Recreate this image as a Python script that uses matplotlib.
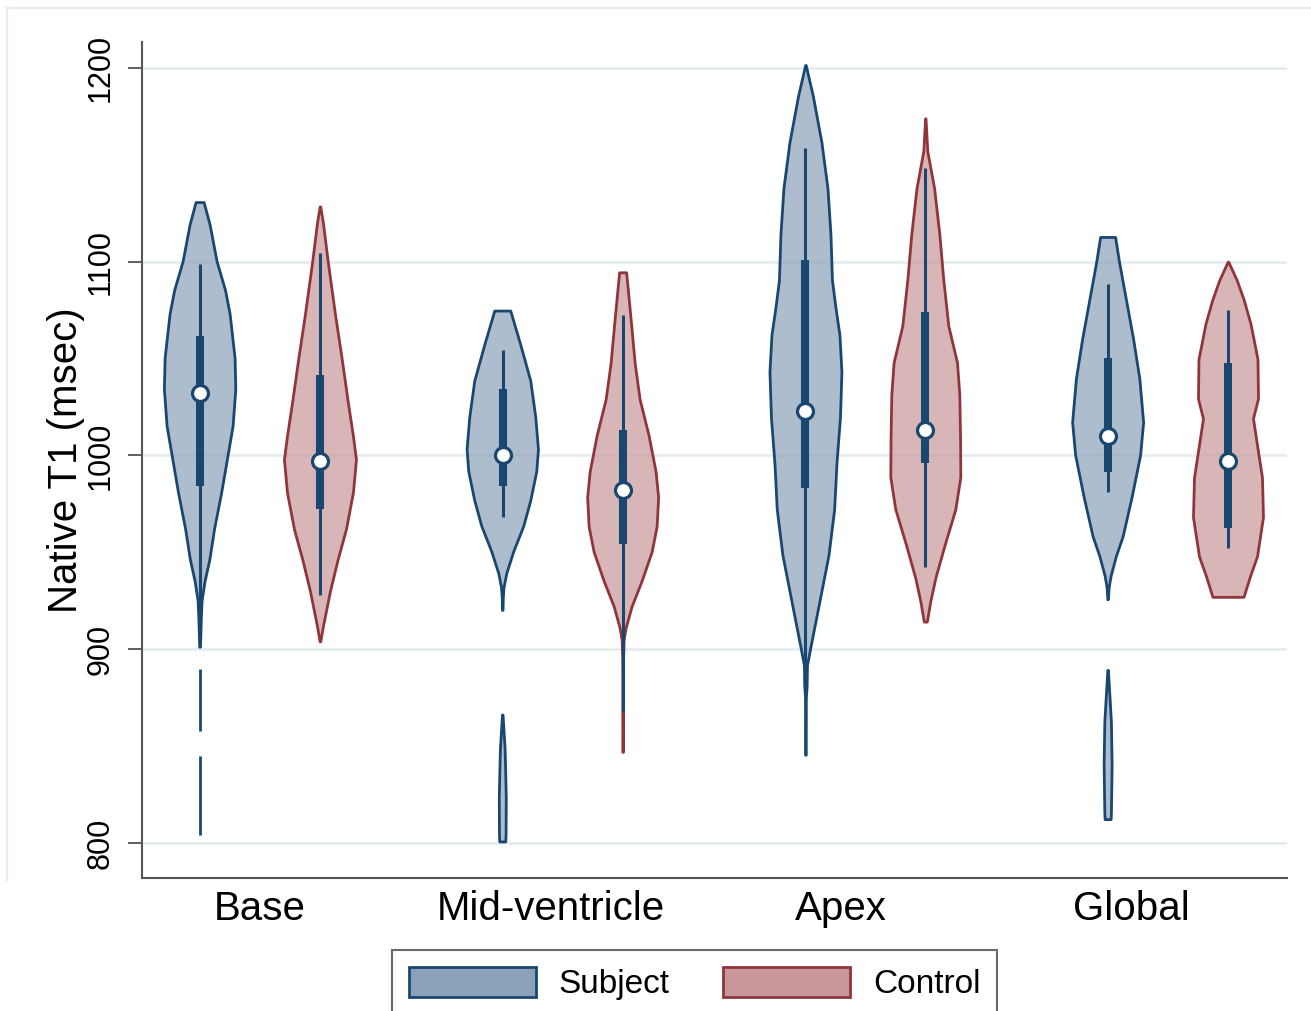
import numpy as np
import matplotlib
matplotlib.use('Agg')
import matplotlib.pyplot as plt
from matplotlib.patches import Patch
from matplotlib.lines import Line2D
from matplotlib.colors import to_rgba

plt.rcParams['font.family'] = ['Liberation Sans', 'DejaVu Sans']

categories = ['Base', 'Mid-ventricle', 'Apex', 'Global']
groups = ['Subject', 'Control']

# violin outlines: T1 (msec) and half width (px), 0 = gap
base_subj_t1 = [1130.5, 1119, 1100, 1085, 1073, 1050, 1034, 1015, 1000, 981, 962, 946, 935, 925, 915,
                905, 901, 900, 891, 890, 858, 857, 846, 845, 804]
base_subj_w = [4, 10, 17, 25.5, 30, 35, 35.7, 33, 28, 21.7, 14.5, 9.7, 5, 2, 1.2,
               0.6, 0.4, 0, 0, 0.4, 0.4, 0, 0, 0.4, 0.4]
base_ctrl_t1 = [1128.5, 1120, 1100, 1073, 1050, 1027, 1010, 998, 981, 962, 946, 930, 912, 904]
base_ctrl_w = [0.3, 3, 7.8, 15, 21.7, 28, 33, 36, 33, 26, 17.5, 10, 3, 0.3]

mid_subj_t1 = [1074.5, 1057, 1038.4, 1019.7, 1003, 991.6, 976.6, 963.4, 950.3, 939, 931.6, 926, 920,
               919, 867, 866, 858, 849, 841.6, 823, 804, 800.5]
mid_subj_w = [8, 18, 28, 33, 35.7, 34, 28, 21, 11, 4, 1.2, 0.5, 0.3,
              0, 0, 0.3, 1.2, 2.3, 2.7, 3.5, 3.3, 3]
mid_ctrl_t1 = [1094.5, 1085, 1066.5, 1047.8, 1029, 1010.3, 991.6, 978.4, 963.4, 950.3, 935.3, 922.2,
               911, 905, 895, 847]
mid_ctrl_w = [3.5, 5.3, 8.7, 12, 17, 26, 33, 35.5, 34, 29, 19, 9, 3, 1, 0.4, 0.3]

apex_subj_t1 = [1201.5, 1185.3, 1161.6, 1138, 1114.3, 1090.6, 1076.4, 1062.2, 1043.2, 1019.6, 995.9,
                972.2, 948.5, 924.8, 901.2, 891.7, 881, 875, 845.5]
apex_subj_w = [0.3, 7.5, 16, 22, 25, 26.5, 30, 34, 36, 34.5, 31, 28.7, 23, 14, 5, 1.5, 1.2, 0.4, 0.3]
apex_ctrl_t1 = [1174, 1157, 1138, 1114.3, 1090.6, 1066.9, 1048, 1031.4, 1007.7, 988.8, 972.2, 953.3,
                936.7, 924.8, 914.2]
apex_ctrl_w = [0.2, 2, 8.8, 14, 18, 23, 31.7, 34, 34.8, 35, 30, 19, 10, 5, 1.5]

glob_subj_t1 = [1112.5, 1100, 1080.2, 1059.9, 1039.5, 1017, 1000, 978.4, 958, 947.9, 937.7, 931.6,
                925.5, 924.5, 890, 889, 876.6, 862.3, 840, 815.5, 812]
glob_subj_w = [7.5, 11.3, 18.3, 25.5, 31.7, 35.5, 32.5, 24, 15, 8.3, 3, 1, 0.3,
               0, 0, 0.3, 1.7, 3.3, 4, 3.3, 3]
glob_ctrl_t1 = [1100, 1090.4, 1080.2, 1068, 1049.7, 1029.3, 1019.1, 1008.9, 988.6, 968.2, 947.9,
                937.7, 927]
glob_ctrl_w = [0.3, 8.8, 15.8, 22.5, 29.5, 30, 25, 28, 34, 35, 29, 22, 15.5]

# box plot inside each violin
subject_median = [1032, 1000, 1023, 1010]
subject_q1 = [984, 984, 983, 991.5]
subject_q3 = [1061.5, 1034.5, 1101, 1050.5]
subject_lo = [906, 968, 882, 981]
subject_hi = [1099, 1054.5, 1158.5, 1088.5]

control_median = [997, 982, 1013, 997]
control_q1 = [972.5, 954.5, 996, 962.5]
control_q3 = [1041.5, 1013, 1074, 1047.5]
control_lo = [928, 868, 942.5, 952]
control_hi = [1104.5, 1072.5, 1148.5, 1075]

subject_t1 = [base_subj_t1, mid_subj_t1, apex_subj_t1, glob_subj_t1]
subject_w = [base_subj_w, mid_subj_w, apex_subj_w, glob_subj_w]
control_t1 = [base_ctrl_t1, mid_ctrl_t1, apex_ctrl_t1, glob_ctrl_t1]
control_w = [base_ctrl_w, mid_ctrl_w, apex_ctrl_w, glob_ctrl_w]

navy = '#1a476f'
maroon = '#90353b'
subj_fill = '#8aa1b9'
ctrl_fill = '#c8979b'
grid_c = '#e3ecf0'

px = 302.7  # pixels per category step, to turn half widths into x units
x = np.arange(len(categories))
subj_pos = x - 0.198
ctrl_pos = x + 0.198

fig = plt.figure(figsize=(13.11, 10.11), dpi=100)
ax = fig.add_axes([0.1083, 0.1316, 0.8734, 0.8269])

# faint outer region border (left and top)
fig.add_artist(Line2D([7 / 1311, 7 / 1311], [1 - 880 / 1011, 1 - 8 / 1011], color=grid_c, lw=1.5))
fig.add_artist(Line2D([7 / 1311, 1.0], [1 - 8 / 1011, 1 - 8 / 1011], color=grid_c, lw=1.5))

for t1s, ws, pos, fc, ec in [(subject_t1, subject_w, subj_pos, subj_fill, navy),
                             (control_t1, control_w, ctrl_pos, ctrl_fill, maroon)]:
    for t1, w, p in zip(t1s, ws, pos):
        t1 = np.array(t1)
        w = np.array(w) / px
        ax.fill_betweenx(t1, p - w, p + w, where=w > 0, facecolor=to_rgba(fc, 0.7),
                         edgecolor=ec, linewidth=2.0, joinstyle='round', zorder=2)

for pos, med, q1, q3, lo, hi in [(subj_pos, subject_median, subject_q1, subject_q3, subject_lo, subject_hi),
                                 (ctrl_pos, control_median, control_q1, control_q3, control_lo, control_hi)]:
    ax.vlines(pos, lo, hi, color=navy, lw=2.2, zorder=3)
    ax.vlines(pos, q1, q3, color=navy, lw=5.8, zorder=4)
    ax.plot(pos, med, 'o', ms=11.5, mfc='white', mec=navy, mew=2.3, ls='none', zorder=5)

ax.set_xlim(-0.390, 3.393)
ax.set_ylim(781.9, 1213.4)

ax.set_yticks([800, 900, 1000, 1100, 1200])
ax.yaxis.grid(True, color=grid_c, lw=1.8, zorder=0)
ax.set_axisbelow(True)
ax.tick_params(axis='y', length=10, width=1.2, color='#444444', pad=9, labelsize=22)
plt.setp(ax.get_yticklabels(), rotation=90, va='center')

ax.set_xticks(x * 0.96)
ax.set_xticklabels(categories)
ax.tick_params(axis='x', length=0, pad=9, labelsize=29)

ax.set_ylabel('Native T1 (msec)', fontsize=29)
ax.yaxis.set_label_coords(-0.050, 0.5)

for s in ['top', 'right']:
    ax.spines[s].set_visible(False)
for s in ['left', 'bottom']:
    ax.spines[s].set_color('#555555')
    ax.spines[s].set_linewidth(1.5)

handles = [Patch(facecolor=subj_fill, edgecolor=navy, linewidth=2),
           Patch(facecolor=ctrl_fill, edgecolor=maroon, linewidth=2)]
leg = fig.legend(handles, groups, loc='upper center', bbox_to_anchor=(0.530, 1 - 950 / 1011),
                 ncol=2, fontsize=24, frameon=True, fancybox=False, edgecolor='#444444',
                 handlelength=3.8, handleheight=1.0, handletextpad=0.7, columnspacing=1.6,
                 borderpad=0.5, borderaxespad=0)
leg.get_frame().set_linewidth(1.5)

fig.savefig('out.png', dpi=100)
